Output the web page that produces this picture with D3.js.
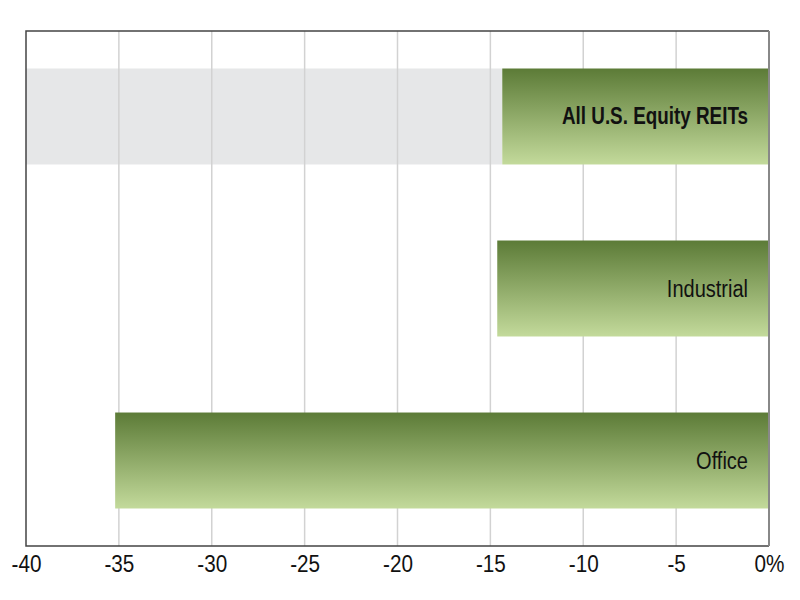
<!DOCTYPE html>
<html>
<head>
<meta charset="utf-8">
<script src="https://cdn.jsdelivr.net/npm/d3@7"></script>
<style>
  body { margin: 0; background: #fff; }
  text { font-family: "Liberation Sans", Arial, sans-serif; }
</style>
</head>
<body>
<svg id="chart" width="800" height="600"></svg>
<script>
// data
var categories = ["All U.S. Equity REITs", "Industrial", "Office"],
    values = [-14.36, -14.63, -35.2],
    highlighted = ["All U.S. Equity REITs"],
    tickValues = [-40, -35, -30, -25, -20, -15, -10, -5, 0];

var svg = d3.select("#chart"),
    plotLeft = 26, plotRight = 769, plotTop = 31, plotBottom = 546;

var x = d3.scaleLinear().domain([-40, 0]).range([plotLeft, plotRight]);
var y = d3.scaleBand().domain(categories).range([plotTop, plotBottom])
    .paddingInner(0.442).paddingOuter(0.218);

var defs = svg.append("defs");
var grad = defs.append("linearGradient").attr("id", "barGrad")
    .attr("x1", 0).attr("y1", 0).attr("x2", 0).attr("y2", 1);
grad.append("stop").attr("offset", "0%").attr("stop-color", "#5c7b37");
grad.append("stop").attr("offset", "100%").attr("stop-color", "#c3da9b");

// highlight band behind the first row
svg.selectAll("rect.band")
    .data(categories.filter(function(c) { return highlighted.indexOf(c) >= 0; }))
  .enter().append("rect")
    .attr("class", "band")
    .attr("x", plotLeft)
    .attr("y", function(d) { return y(d); })
    .attr("width", function(d) { return x(values[categories.indexOf(d)]) - plotLeft; })
    .attr("height", y.bandwidth())
    .attr("fill", "#e6e7e8");

// grid
svg.append("g").selectAll("line")
    .data(tickValues.slice(1, -1))
  .enter().append("line")
    .attr("x1", function(d) { return x(d); })
    .attr("x2", function(d) { return x(d); })
    .attr("y1", plotTop).attr("y2", plotBottom)
    .attr("stroke", "#d2d2d2").attr("stroke-width", 1.5);

// bars
svg.selectAll("rect.bar")
    .data(categories)
  .enter().append("rect")
    .attr("class", "bar")
    .attr("x", function(d, i) { return x(values[i]); })
    .attr("y", function(d) { return y(d); })
    .attr("width", function(d, i) { return x(0) - x(values[i]); })
    .attr("height", y.bandwidth())
    .attr("fill", "url(#barGrad)");

// labels inside bars (condensed look via horizontal squeeze)
svg.selectAll("text.label")
    .data(categories)
  .enter().append("text")
    .attr("class", "label")
    .attr("transform", function(d) {
        var bold = highlighted.indexOf(d) >= 0;
        return "translate(" + (x(0) - 21) + "," + (y(d) + y.bandwidth() / 2 + 8) + ") scale(" + (bold ? 0.82 : 0.87) + ",1)";
    })
    .attr("text-anchor", "end")
    .attr("font-size", 23)
    .attr("font-weight", function(d) { return highlighted.indexOf(d) >= 0 ? "bold" : "normal"; })
    .attr("fill", "#111")
    .text(function(d) { return d; });

// frame
svg.append("path")
    .attr("d", "M" + plotRight + "," + plotTop + "H" + plotLeft + "V" + plotBottom + "H" + plotRight)
    .attr("fill", "none").attr("stroke", "#444").attr("stroke-width", 1.5);
svg.append("line")
    .attr("x1", plotRight).attr("x2", plotRight).attr("y1", plotTop).attr("y2", plotBottom)
    .attr("stroke", "#888").attr("stroke-width", 2);

// x axis labels
var xAxis = d3.axisBottom(x).tickValues(tickValues).tickSize(0).tickPadding(0)
    .tickFormat(function(d) { return d === 0 ? "0%" : d; });
var ax = svg.append("g").attr("transform", "translate(0," + plotBottom + ")").call(xAxis);
ax.select(".domain").remove();
ax.selectAll("text")
    .attr("y", 0)
    .attr("dy", 0)
    .attr("transform", "translate(0,26) scale(0.9,1)")
    .attr("font-size", 23)
    .attr("fill", "#111")
    .style("font-family", "\"Liberation Sans\", Arial, sans-serif");
</script>
</body>
</html>
